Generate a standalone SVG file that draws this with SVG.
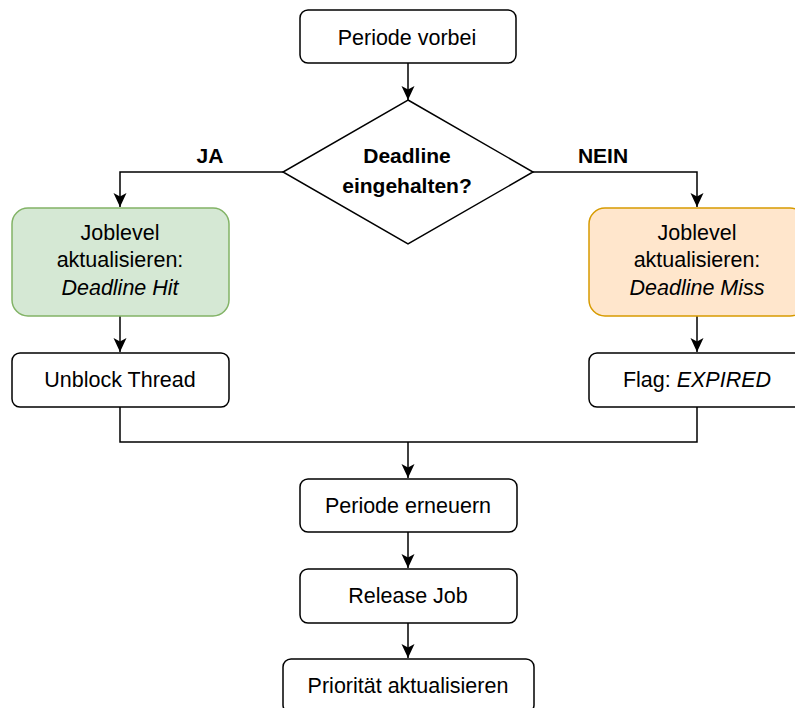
<svg xmlns="http://www.w3.org/2000/svg" width="795" height="708" viewBox="0 0 795 708">
  <defs>
    <marker id="arrow" viewBox="0 0 14 14" refX="14" refY="7" markerWidth="14" markerHeight="14" markerUnits="userSpaceOnUse" orient="auto">
      <path d="M0,0.5 L14,7 L0,13.5 L3.5,7 Z" fill="#000"/>
    </marker>
    <style>
      .box { fill: #fff; stroke: #000; stroke-width: 1.5; }
      .hit { fill: #d5e8d4; stroke: #82b366; stroke-width: 1.5; }
      .miss { fill: #ffe6cc; stroke: #d79b00; stroke-width: 1.5; }
      .lbl { font-family: "Liberation Sans", Arial, sans-serif; font-size: 21.5px; fill: #000; text-anchor: middle; }
      .b { font-weight: bold; font-size: 21px; }
      .i { font-style: italic; }
      .edge { fill: none; stroke: #000; stroke-width: 1.5; }
      .arr { marker-end: url(#arrow); }
    </style>
  </defs>

  <g id="connectors">
    <path class="edge arr" d="M408,63 V100"/>
    <path class="edge arr" d="M283,172 H120 V207"/>
    <path class="edge arr" d="M533,172 H697 V207"/>
    <path class="edge arr" d="M120,316 V352"/>
    <path class="edge arr" d="M697,316 V352"/>
    <path class="edge" d="M120,407 V442 H697 V407"/>
    <path class="edge arr" d="M408,442 V478"/>
    <path class="edge arr" d="M408,532 V568"/>
    <path class="edge arr" d="M408,623 V658"/>
    <text class="lbl b" x="210" y="163">JA</text>
    <text class="lbl b" x="603" y="163">NEIN</text>
  </g>

  <g id="periode-vorbei">
    <rect class="box" x="300" y="10" width="216" height="53" rx="8"/>
    <text class="lbl" x="407" y="45">Periode vorbei</text>
  </g>

  <g id="deadline-eingehalten">
    <polygon class="box" points="408,100 533,172 408,244 283,172"/>
    <text class="lbl b" x="407" y="163">Deadline</text>
    <text class="lbl b" x="407" y="193">eingehalten?</text>
  </g>

  <g id="joblevel-hit">
    <rect class="hit" x="12" y="208" width="217" height="108" rx="16"/>
    <text class="lbl" x="120" y="240">Joblevel</text>
    <text class="lbl" x="120" y="267">aktualisieren:</text>
    <text class="lbl i" x="120" y="295">Deadline Hit</text>
  </g>

  <g id="joblevel-miss">
    <rect class="miss" x="589" y="208" width="217" height="108" rx="16"/>
    <text class="lbl" x="697" y="240">Joblevel</text>
    <text class="lbl" x="697" y="267">aktualisieren:</text>
    <text class="lbl i" x="697" y="295">Deadline Miss</text>
  </g>

  <g id="unblock-thread">
    <rect class="box" x="12" y="353" width="217" height="54" rx="8"/>
    <text class="lbl" x="120" y="387">Unblock Thread</text>
  </g>

  <g id="flag-expired">
    <rect class="box" x="589" y="353" width="217" height="54" rx="8"/>
    <text class="lbl" x="697" y="387">Flag: <tspan class="i">EXPIRED</tspan></text>
  </g>

  <g id="periode-erneuern">
    <rect class="box" x="300" y="479" width="217" height="53" rx="8"/>
    <text class="lbl" x="408" y="513">Periode erneuern</text>
  </g>

  <g id="release-job">
    <rect class="box" x="300" y="569" width="217" height="54" rx="8"/>
    <text class="lbl" x="408" y="603">Release Job</text>
  </g>

  <g id="prioritaet-aktualisieren">
    <rect class="box" x="283" y="659" width="251" height="54" rx="8"/>
    <text class="lbl" x="408" y="693">Priorität aktualisieren</text>
  </g>
</svg>
